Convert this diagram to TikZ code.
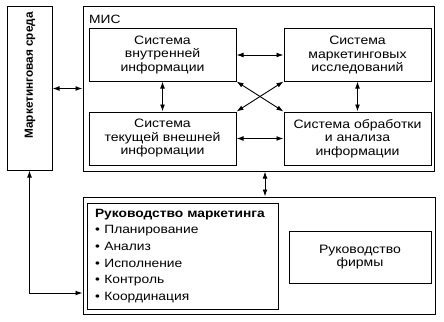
\documentclass[tikz,border=0pt]{standalone}
\usepackage{fontspec}
\setmainfont{Liberation Sans}[FakeStretch=1.15]
\newfontfamily\plainsans{Liberation Sans}
\usetikzlibrary{arrows.meta}
\begin{document}
\begin{tikzpicture}[x=1pt,y=-1pt,
  box/.style={draw, line width=1pt, inner sep=0pt, align=center, font=\fontsize{12.2}{13.5}\selectfont},
  arr/.style={line width=0.9pt, {Latex[length=7pt,width=4.8pt]}-{Latex[length=7pt,width=4.8pt]}}]
\useasboundingbox (0,0) rectangle (444,321);
\node[box, minimum width=45pt, minimum height=163pt] (env) at (29.5,88.5) {};
\node[font=\plainsans\bfseries\fontsize{11.8}{13}\selectfont, rotate=90, anchor=east, inner sep=0pt] (envt) at (30,12) {Маркетинговая среда};
\node[box, minimum width=351pt, minimum height=164pt] (mis) at (258.5,89) {};
\node[font=\fontsize{12}{13.5}\selectfont, anchor=west, inner sep=0pt] (mist) at (89,19) {МИС};
\node[box, minimum width=147pt, minimum height=52pt] (b1) at (162.5,55) {Система\\внутренней\\информации};
\node[box, minimum width=147pt, minimum height=52pt] (b2) at (357.5,55) {Система\\маркетинговых\\исследований};
\node[box, minimum width=147pt, minimum height=53pt] (b3) at (162.5,138.5) {Система\\текущей внешней\\информации};
\node[box, minimum width=147pt, minimum height=53pt] (b4) at (357.5,138.5) {Система обработки\\и анализа\\информации};
\node[box, minimum width=352pt, minimum height=117pt] (bot) at (259,255.5) {};
\node[box, minimum width=191pt, minimum height=106pt, text width=175pt, align=left, inner xsep=8pt,
  font=\fontsize{12}{16.6}\selectfont] (mk) at (182.5,256)
  {\textbf{Руководство маркетинга}\\
   •\hspace{4.5pt}Планирование\\
   •\hspace{4.5pt}Анализ\\
   •\hspace{4.5pt}Исполнение\\
   •\hspace{4.5pt}Контроль\\
   •\hspace{4.5pt}Координация};
\node[box, minimum width=142pt, minimum height=52pt] (firm) at (360,257) {Руководство\\фирмы};
\draw[arr] (env.east) -- (env.east -| mis.west);
\draw[arr] (b1.east) -- (b2.west);
\draw[arr] (b3.east) -- (b4.west);
\draw[arr] (b1.south) -- (b3.north);
\draw[arr] (b2.south) -- (b4.north);
\draw[arr] (b1.south east) -- (b4.north west);
\draw[arr] (b2.south west) -- (b3.north east);
\draw[arr] ([xshift=6.5pt]mis.south) -- ([xshift=6.5pt]mis.south |- bot.north);
\draw[arr] (env.south) |- ([yshift=-37.5pt]bot.west);
\end{tikzpicture}
\end{document}
